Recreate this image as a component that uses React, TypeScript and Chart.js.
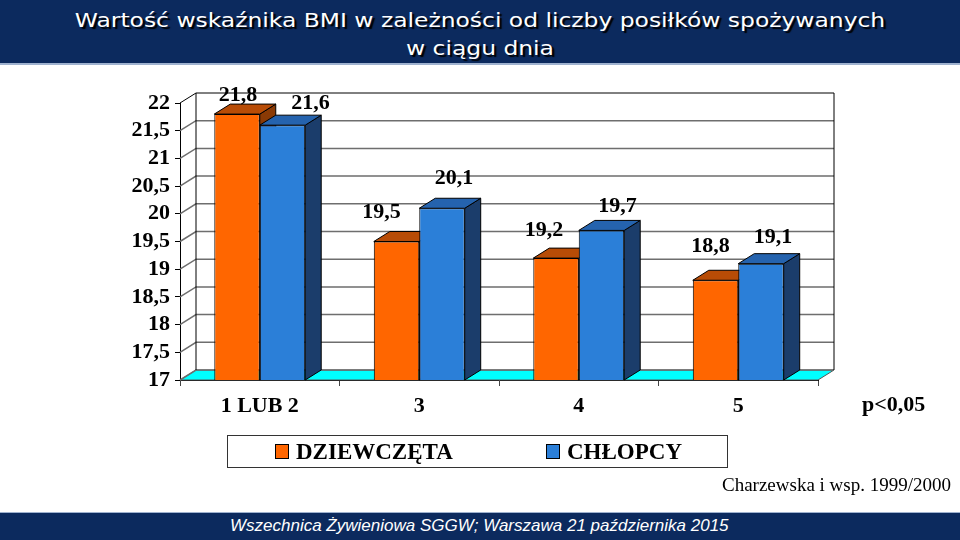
import React, { useEffect, useRef } from 'react';
import { Chart, registerables } from 'chart.js';

Chart.register(...registerables);

const categories = ['1 LUB 2', '3', '4', '5'];
const seriesNames = ['DZIEWCZĘTA', 'CHŁOPCY'];
const girls = [21.8, 19.5, 19.2, 18.8];
const boys = [21.6, 20.1, 19.7, 19.1];
const yMin = 17;
const yMax = 22;
const yStep = 0.5;

const frontColors = ['#ff6600', '#2b7fd8'];
const topColors = ['#b84c06', '#2563ae'];
const sideColors = ['#8a3a05', '#1b3d6b'];
// manual nudges of value labels (as in the original slide)
const labelNudge = [
  [[-7, 5], [-23, -5], [-20, -4], [-13, -10]],
  [[20, 2], [4, -6], [8, 0], [4, -2]],
];

const DX = 16;
const DY = 10;
const fmt = (v: number) => String(v).replace('.', ',');

function drawBoxes(chart: any, i: number) {
  const ctx = chart.ctx;
  const meta = chart.getDatasetMeta(i);
  const base = chart.chartArea.bottom;
  ctx.save();
  ctx.lineWidth = 1;
  ctx.strokeStyle = '#000';
  meta.data.forEach((bar: any) => {
    const { x, y, width } = bar.getProps(['x', 'y', 'width'], true);
    const l = x - width / 2;
    const r = x + width / 2;
    ctx.beginPath();
    ctx.moveTo(r, y);
    ctx.lineTo(r + DX, y - DY);
    ctx.lineTo(r + DX, base - DY);
    ctx.lineTo(r, base);
    ctx.closePath();
    ctx.fillStyle = sideColors[i];
    ctx.fill();
    ctx.stroke();
    ctx.beginPath();
    ctx.moveTo(l, y);
    ctx.lineTo(r, y);
    ctx.lineTo(r + DX, y - DY);
    ctx.lineTo(l + DX, y - DY);
    ctx.closePath();
    ctx.fillStyle = topColors[i];
    ctx.fill();
    ctx.stroke();
  });
  ctx.restore();
}

const threeD = {
  id: 'threeD',
  beforeDatasetsDraw(chart: any) {
    const { ctx, chartArea: a, scales } = chart;
    const y = scales.y;
    ctx.save();
    ctx.beginPath();
    ctx.moveTo(a.left, a.bottom);
    ctx.lineTo(a.right, a.bottom);
    ctx.lineTo(a.right + DX, a.bottom - DY);
    ctx.lineTo(a.left + DX, a.bottom - DY);
    ctx.closePath();
    ctx.fillStyle = '#00ffff';
    ctx.fill();
    ctx.strokeStyle = '#555';
    ctx.lineWidth = 1;
    ctx.stroke();
    y.ticks.forEach((t: any) => {
      const py = y.getPixelForValue(t.value);
      ctx.beginPath();
      ctx.moveTo(a.left, py);
      ctx.lineTo(a.left + DX, py - DY);
      ctx.lineTo(a.right + DX, py - DY);
      ctx.strokeStyle = t.value === yMax ? '#000' : '#6e6e6e';
      ctx.lineWidth = t.value === yMax ? 1 : 1.5;
      ctx.stroke();
    });
    ctx.beginPath();
    ctx.moveTo(a.left + DX, a.top - DY);
    ctx.lineTo(a.left + DX, a.bottom - DY);
    ctx.moveTo(a.right + DX, a.top - DY);
    ctx.lineTo(a.right + DX, a.bottom - DY);
    ctx.strokeStyle = '#000';
    ctx.lineWidth = 1;
    ctx.stroke();
    ctx.restore();
    drawBoxes(chart, 0);
  },
  afterDatasetsDraw(chart: any) {
    drawBoxes(chart, 1);
    const ctx = chart.ctx;
    ctx.save();
    ctx.font = 'bold 22px "Liberation Serif"';
    ctx.fillStyle = '#000';
    ctx.textAlign = 'center';
    ctx.textBaseline = 'middle';
    [0, 1].forEach((i) => {
      const meta = chart.getDatasetMeta(i);
      const vals = chart.data.datasets[i].data;
      meta.data.forEach((bar: any, j: number) => {
        const { x, y } = bar.getProps(['x', 'y'], true);
        const [nx, ny] = labelNudge[i][j];
        ctx.fillText(fmt(vals[j]), x + DX / 2 + nx, y - DY - 14 + ny);
      });
    });
    ctx.restore();
  },
};

export default function App() {
  const ref = useRef<HTMLCanvasElement>(null);
  useEffect(() => {
    if (!ref.current) return;
    const chart = new Chart(ref.current, {
      type: 'bar',
      data: {
        labels: categories,
        datasets: [
          { label: seriesNames[0], data: girls, backgroundColor: frontColors[0], borderColor: '#000', borderWidth: 1, borderSkipped: false },
          { label: seriesNames[1], data: boys, backgroundColor: frontColors[1], borderColor: '#000', borderWidth: 1, borderSkipped: false },
        ],
      },
      options: {
        animation: false,
        responsive: false,
        devicePixelRatio: 1,
        layout: { padding: { left: 0, right: 142, top: 103, bottom: 120 } },
        datasets: { bar: { barPercentage: 1, categoryPercentage: 0.57 } },
        plugins: { legend: { display: false }, tooltip: { enabled: false }, title: { display: false } },
        scales: {
          x: {
            offset: true,
            grid: { offset: true, drawOnChartArea: false, drawTicks: true, tickLength: 6, color: '#444' },
            border: { display: true, color: '#000', width: 1 },
            ticks: { color: '#000', font: { family: '"Liberation Serif"', size: 22, weight: 'bold' }, padding: 7, maxRotation: 0 },
            afterFit: (s: any) => { s.height = 40; },
          },
          y: {
            min: yMin,
            max: yMax,
            grid: { drawOnChartArea: false, drawTicks: true, tickLength: 5, color: '#000' },
            border: { display: true, color: '#000', width: 1 },
            ticks: { stepSize: yStep, autoSkip: false, color: '#000', font: { family: '"Liberation Serif"', size: 22, weight: 'bold' }, padding: 5, callback: (v: any) => fmt(Number(v)) },
            afterFit: (s: any) => { s.width = 180; },
          },
        },
      } as any,
      plugins: [threeD],
    });
    return () => chart.destroy();
  }, []);

  const serif = '"Liberation Serif", "Times New Roman", serif';
  return (
    <div style={{ position: 'absolute', left: 0, top: 0, width: 960, height: 540, background: '#fff', overflow: 'hidden' }}>
      <canvas ref={ref} width={960} height={540} style={{ position: 'absolute', left: 0, top: 0, width: 960, height: 540 }} />
      <div style={{ position: 'absolute', left: 0, top: 0, width: 960, height: 65, background: '#0c2a5e', borderBottom: '2px solid #9fb2cf', color: '#fff', fontFamily: '"DejaVu Sans", sans-serif', fontSize: 20, lineHeight: '28px', textAlign: 'center', paddingTop: 6, boxSizing: 'border-box', textShadow: '2px 2px 1px #000' }}>
        <div style={{ transform: 'scaleX(1.17)', transformOrigin: '480px 0' }}>
          Wartość wskaźnika BMI w zależności od liczby posiłków spożywanych<br />w ciągu dnia
        </div>
      </div>
      <div style={{ position: 'absolute', left: 862, top: 392, fontFamily: serif, fontWeight: 'bold', fontSize: 22, lineHeight: '24px', color: '#000' }}>p&lt;0,05</div>
      <div style={{ position: 'absolute', left: 227, top: 435, width: 501, height: 33, border: '1px solid #333', boxSizing: 'border-box', fontFamily: serif, fontWeight: 'bold', fontSize: 23, color: '#000' }}>
        {seriesNames.map((n, i) => (
          <div key={n} style={{ position: 'absolute', left: i === 0 ? 47 : 318, top: 0, height: 31, display: 'flex', alignItems: 'center' }}>
            <span style={{ display: 'inline-block', width: 12, height: 13, background: frontColors[i], border: '1px solid #000', marginRight: 7 }} />
            <span style={{ lineHeight: '31px' }}>{n}</span>
          </div>
        ))}
      </div>
      <div style={{ position: 'absolute', right: 9, top: 474, fontFamily: serif, fontSize: 19, lineHeight: '22px', color: '#000' }}>Charzewska i wsp. 1999/2000</div>
      <div style={{ position: 'absolute', left: 0, top: 512, width: 960, height: 28, background: '#0c2a5e', borderTop: '1px solid #9fb2cf', boxSizing: 'border-box', color: '#fff', fontFamily: '"Liberation Sans", Arial, sans-serif', fontStyle: 'italic', fontSize: 17, lineHeight: '26px', paddingLeft: 230 }}>
        Wszechnica Żywieniowa SGGW; Warszawa 21 października 2015
      </div>
    </div>
  );
}
